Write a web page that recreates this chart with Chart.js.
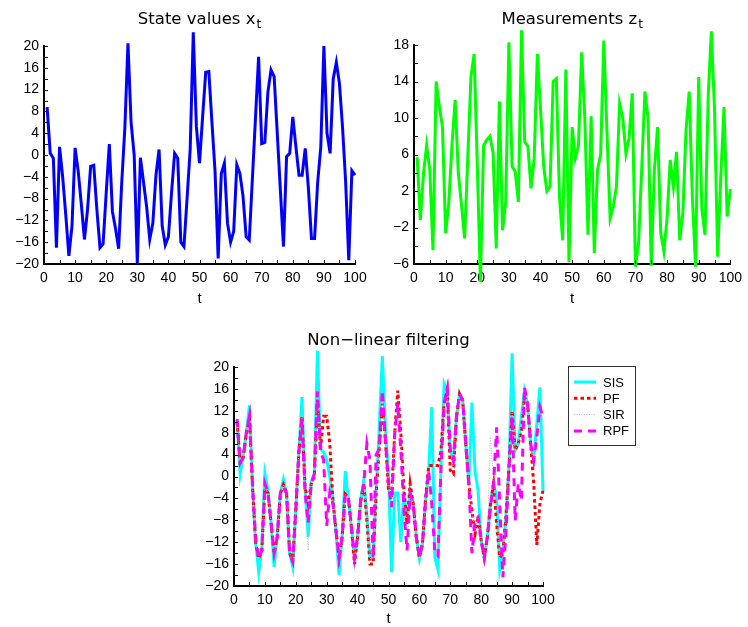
<!DOCTYPE html>
<html>
<head>
<meta charset="utf-8">
<title>Non-linear filtering</title>
<script src="https://cdn.jsdelivr.net/npm/chart.js@4.4.0/dist/chart.umd.min.js"></script>
<style>
  html, body { margin: 0; padding: 0; background: #fff; }
  #fig { position: relative; width: 748px; height: 627px; overflow: hidden; }
  #fig canvas { position: absolute; }
</style>
</head>
<body>
<div id="fig">
  <canvas id="stateChart" width="374" height="310" style="left:0;top:0"></canvas>
  <canvas id="measChart" width="374" height="310" style="left:374px;top:0"></canvas>
  <canvas id="filterChart" width="480" height="307" style="left:190px;top:320px"></canvas>
</div>
<script>
// time steps 1..100
const steps = Array.from({ length: 100 }, (_, i) => i + 1);

// true state x_t
const stateX = [
  8.8, 0.3, -0.6, -17, 1.5, -4, -11, -18.5, -13, 1.3,
  -3, -9, -15.5, -10, -2.1, -1.9, -10, -17, -16.3, -7,
  2, -10.4, -13.5, -17.2, -5, 5, 20.5, 6, 0, -19.8,
  -0.5, -5, -9.5, -15.5, -12.5, -3.7, 1, -13, -16.5, -15,
  -7, 0.3, -0.6, -16, -16.8, -8, 1, 22.5, 5.2, -1.5,
  7, 15.2, 15.3, 6, -3, -19, -3.4, -1.5, -12.5, -16,
  -14, -1.8, -3.4, -7.6, -15, -15.6, -4.4, 6.8, 18, 2.1,
  2.3, 11.6, 15.6, 14.4, 4, -6.4, -16.8, -0.3, 0.3, 7,
  1.5, -3.7, -3.7, 1.2, -6, -15.3, -15.3, -5, 1.5, 20,
  4, 0.3, 14, 17, 13.1, 5, -5, -19.3, -2.9, -3.7
];

// measurements z_t
const measZ = [
  5.7, -1.2, 3.9, 7, 4.3, -4.5, 14, 11.3, 9, -2.6,
  0.7, 7, 12, 4, 0.5, -3.2, 5.6, 14.5, 17, 5,
  -8, 7, 7.6, 8, 6.2, -4.3, 11.8, -2.3, 0.8, 18.3,
  4.7, 4.1, 0.8, 19.6, 7.4, 6.9, 2.3, 5.6, 17, 11,
  4.7, 2, 2.5, 14, 14.3, 1.3, -3.4, 15.3, -5.8, 9,
  5.6, 7, 17.2, 10, -2.8, 10.2, -4.8, 4.3, 6, 18.5,
  8.5, -1, 0.3, 2.5, 11.6, 10, 6.1, 7.8, 12.7, -6.3,
  -3.7, 4.5, 12.9, 10, -6.2, 4.3, 9, -2.6, -4.6, -1,
  5.4, 2.5, 6.3, -3.4, -0.4, 8.7, 12.9, 1.4, -6.3, 14.5,
  0, -2.8, 12.3, 19.5, 11, -5.2, 3.6, 11.2, -0.8, 2.2
];

// filter estimates
const estSIS = [
  10, 0.5, 4, 8, 13, -2, -12, -17.5, -13, 0.5,
  -2.5, -8.5, -16.5, -10.5, -3, -0.5, -3, -14, -16.5, -6,
  4.5, 14.5, -2, -11, -1, 0.5, 23, 5, 4.5, 3,
  0, -4, -10, -18, -11, 1, -4, -9.3, -15, -11,
  -4.4, -0.7, -7, -15, -15, -3, 9, 22, 9, 0.5,
  -17.5, -3, -3, -12, -2.6, -8.7, -2.6, -5, -11.1, -15,
  -12.3, -4.4, 1.1, 12.7, -14.8, -17, 2, 17, 15.7, 4.8,
  2.9, 10.9, 15.1, 13.9, 6, -1.3, 13.5, 1, -2.6, -11.7,
  -14.8, -11, -5, -1.3, -3.8, -17, -14.1, -7.4, 1.7, 22.5,
  4.8, 6, 10.9, 15.7, 13.3, 6, 3.5, 9.6, 16.3, -2.6
];
const estPF = [
  10, 2.5, 3.5, 8, 10.5, -2, -12, -15, -13.5, -2.3,
  -3, -8.5, -14, -11, -3.2, -1.5, -3, -14, -15.5, -6,
  4.5, 11, -2, -5, -1.3, 0, 14, 5, 11, 11,
  6, -4.4, -9.9, -14.8, -11, -3.2, -3.8, -9.3, -16, -11,
  -4.4, -1.3, -8, -16, -16, -3, 5, 13.3, 6.6, -2.6,
  -3.2, 7.8, 15.7, 7.8, -2.6, -8.7, -1.3, -5, -11.1, -14.8,
  -12.3, -4, 2, 2, 2, 2, 4.8, 13.3, 15.7, 1.1,
  0.5, 10.9, 15.1, 13.9, 6, -1.3, -6.2, -10.5, -7.4, -11.7,
  -14.8, -11, -5, -1.3, -8.7, -14.8, -14.1, -7.4, 1.7, 12,
  4.8, 6, 8.4, 14.5, 13.3, 6, -1.3, -12.5, -5, -2.6
];
const estSIR = [
  10, 2, 3.5, 8, 10.5, -2, -12, -15, -13.5, -2,
  -3, -8.5, -14, -11, -3, -1.5, -3, -14, -15.5, -6,
  4.5, 11, -3, -13.5, -1.3, 0, 15, 5, 3, -8,
  -3, -4.4, -9.9, -14.8, -11, -3.2, -3.8, -9.3, -14.8, -11,
  -4.4, -1.3, -7, -15, -15, -3, 5, 15, 6.6, -1.3,
  -5, 7.8, 13, 4.8, -6.2, -13.5, -3.2, -5, -11.1, -14.8,
  -12.3, -4.4, 1, -5, -13.5, -14, 2, 13.3, 15.7, 4.8,
  2.9, 10.9, 15.1, 13.9, 6, -1.3, -6, -10, -7.4, -11.7,
  -14.8, -11, 7.2, -1.3, -5, -14.8, -14.1, -7.4, 1.7, 12,
  4.8, 6, 10.9, 15, 13.3, 6, 2, 7, 12, 10
];
const estRPF = [
  10.5, 2.5, 3.5, 8, 11, -1.5, -11.5, -15, -13.5, -1.3,
  -3, -8.5, -14, -11, -3, -2, -3, -14, -15.5, -6,
  4.5, 10.5, -3, -8.5, -1.3, 0.5, 15.5, 4.5, 3, -9,
  -3, -5, -9.9, -14.8, -11, -3.2, -3.8, -9.3, -14.8, -11,
  -4.4, -1.3, 6, 3, -15, 4, 5, 15.7, 6.6, -1.3,
  -5.6, 7.8, 13.3, 4.8, -6.2, -13.5, -3.2, -5, -11.1, -14.8,
  -12.3, -4.4, 1, -5, -14, -14.5, 1.7, 13.3, 16, 4.8,
  2.9, 10.9, 15.1, 13.9, 6, -1.3, -14, -8, -7.4, -11.7,
  -14.8, -11, -5.6, -1.3, 9, -5, -18.4, -10.5, 1.7, 10.9,
  -8, -1.3, -4.4, 16.3, 13.3, 6, 2.9, 7.2, 12.7, 10.9
];

const legendNames = ['SIS', 'PF', 'SIR', 'RPF'];

const TICK_FONT = { family: '"Liberation Sans", Arial, sans-serif', size: 14 };
const TITLE_FONT = '16.5px "DejaVu Sans", sans-serif';
const SUB_FONT = '12px "DejaVu Sans", sans-serif';
const LABEL_FONT = '15px "Liberation Sans", Arial, sans-serif';
const LEGEND_FONT = '13px "Liberation Sans", Arial, sans-serif';

const toPoints = arr => arr.map((v, i) => ({ x: steps[i], y: v }));
const withMinus = v => (v < 0 ? '\u2212' + Math.abs(v) : String(v));

// title with subscript, x label, inward minor ticks, optional legend box
function axesDecor(cfg) {
  return {
    id: 'axesDecor',
    afterDraw(chart) {
      const { ctx, chartArea: a, scales: { x, y } } = chart;
      ctx.save();
      ctx.strokeStyle = '#000';
      ctx.lineWidth = 1;
      ctx.beginPath();
      for (let v = x.min; v <= x.max; v += cfg.xMinor) {
        const px = Math.round(x.getPixelForValue(v)) + 0.5;
        ctx.moveTo(px, a.bottom);
        ctx.lineTo(px, a.bottom - 4);
      }
      for (let v = y.min; v <= y.max; v += cfg.yMinor) {
        const py = Math.round(y.getPixelForValue(v)) + 0.5;
        ctx.moveTo(a.left, py);
        ctx.lineTo(a.left + 4, py);
      }
      ctx.stroke();

      const cx = (a.left + a.right) / 2;
      ctx.fillStyle = '#000';
      ctx.textBaseline = 'alphabetic';
      ctx.textAlign = 'left';
      ctx.font = TITLE_FONT;
      const w1 = ctx.measureText(cfg.title).width;
      ctx.font = SUB_FONT;
      const w2 = cfg.sub ? ctx.measureText(cfg.sub).width + 1 : 0;
      const tx = cx - (w1 + w2) / 2;
      ctx.font = TITLE_FONT;
      ctx.fillText(cfg.title, tx, cfg.titleY);
      if (cfg.sub) {
        ctx.font = SUB_FONT;
        ctx.fillText(cfg.sub, tx + w1 + 1, cfg.titleY + 4);
      }

      ctx.font = LABEL_FONT;
      ctx.textAlign = 'center';
      ctx.fillText('t', cx, cfg.xlabelY);

      if (cfg.legend) {
        const L = cfg.legend;
        ctx.fillStyle = '#fff';
        ctx.fillRect(L.x, L.y, L.w, L.h);
        ctx.strokeStyle = '#333';
        ctx.lineWidth = 1;
        ctx.strokeRect(L.x + 0.5, L.y + 0.5, L.w, L.h);
        ctx.font = LEGEND_FONT;
        ctx.textAlign = 'left';
        ctx.textBaseline = 'middle';
        legendNames.forEach((name, i) => {
          const ds = chart.data.datasets.find(d => d.label === name);
          const ly = L.y + L.first + i * L.gap;
          ctx.save();
          ctx.strokeStyle = ds.borderColor;
          ctx.lineWidth = ds.borderWidth;
          ctx.setLineDash(ds.borderDash || []);
          ctx.beginPath();
          ctx.moveTo(L.x + 6, ly);
          ctx.lineTo(L.x + 28, ly);
          ctx.stroke();
          ctx.restore();
          ctx.fillStyle = '#000';
          ctx.fillText(name, L.x + 35, ly + 1);
        });
      }
      ctx.restore();
    }
  };
}

function axisOptions(cfg) {
  return {
    responsive: false,
    animation: false,
    events: [],
    layout: { padding: cfg.padding },
    plugins: { legend: { display: false }, tooltip: { enabled: false } },
    scales: {
      x: {
        type: 'linear', min: 0, max: 100,
        afterFit: s => { s.height = cfg.xHeight; },
        grid: { display: false, drawTicks: false },
        border: { display: true, color: '#000', width: 2 },
        ticks: { stepSize: 10, autoSkip: false, maxRotation: 0, padding: 6, color: '#000', font: TICK_FONT, callback: withMinus }
      },
      y: {
        type: 'linear', min: cfg.yMin, max: cfg.yMax,
        afterFit: s => { s.width = cfg.yWidth; },
        grid: { display: false, drawTicks: false },
        border: { display: true, color: '#000', width: 2 },
        ticks: { stepSize: cfg.yStep, autoSkip: false, padding: 5, color: '#000', font: TICK_FONT, callback: withMinus }
      }
    }
  };
}

function lineSet(label, values, color, width, dash, order) {
  return {
    label, data: toPoints(values),
    borderColor: color, borderWidth: width, borderDash: dash || [],
    borderJoinStyle: 'miter', borderCapStyle: 'butt',
    pointRadius: 0, tension: 0, fill: false, clip: false, order
  };
}

new Chart(document.getElementById('stateChart'), {
  type: 'line',
  data: { datasets: [lineSet('x', stateX, '#0000ff', 3)] },
  options: axisOptions({ padding: { left: 0, top: 46, right: 19, bottom: 0 }, xHeight: 46, yWidth: 44, yMin: -20, yMax: 20, yStep: 4 }),
  plugins: [axesDecor({ title: 'State values x', sub: 't', titleY: 24, xlabelY: 303, xMinor: 5, yMinor: 2 })]
});

new Chart(document.getElementById('measChart'), {
  type: 'line',
  data: { datasets: [lineSet('z', measZ, '#00ff00', 3)] },
  options: axisOptions({ padding: { left: 0, top: 45, right: 15, bottom: 0 }, xHeight: 46, yWidth: 40, yMin: -6, yMax: 18, yStep: 4 }),
  plugins: [axesDecor({ title: 'Measurements z', sub: 't', titleY: 24, xlabelY: 303, xMinor: 5, yMinor: 2 })]
});

new Chart(document.getElementById('filterChart'), {
  type: 'line',
  data: {
    datasets: [
      lineSet('SIS', estSIS, '#00ffff', 3, [], 4),
      lineSet('PF', estPF, '#ff0000', 3, [3.5, 3], 3),
      lineSet('SIR', estSIR, '#b4b4e6', 1, [1, 1.5], 2),
      lineSet('RPF', estRPF, '#ff00ff', 3, [8, 6], 1)
    ]
  },
  options: axisOptions({ padding: { left: 0, top: 47, right: 127, bottom: 0 }, xHeight: 41, yWidth: 44, yMin: -20, yMax: 20, yStep: 4 }),
  plugins: [axesDecor({
    title: 'Non\u2212linear filtering', titleY: 25, xlabelY: 303, xMinor: 5, yMinor: 2,
    legend: { x: 378, y: 46, w: 67, h: 79, first: 16, gap: 16.3 }
  })]
});
</script>
</body>
</html>
